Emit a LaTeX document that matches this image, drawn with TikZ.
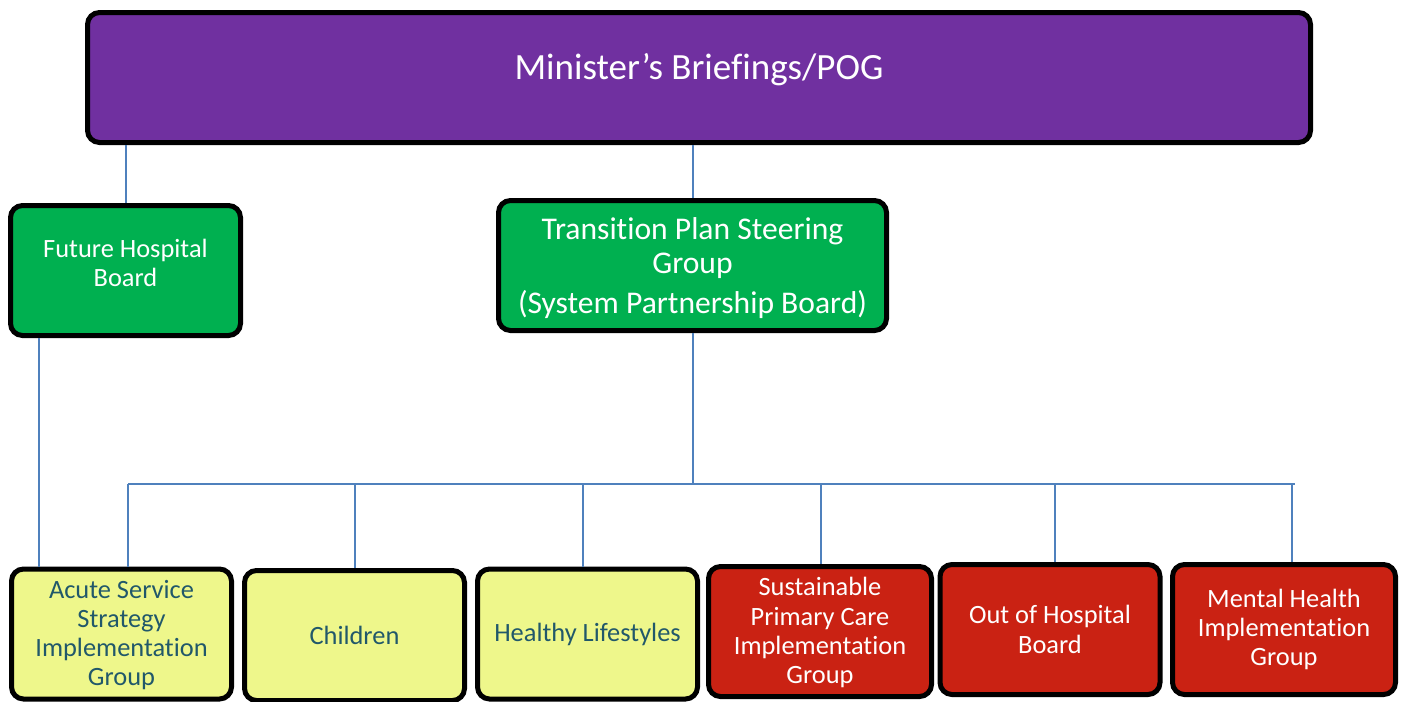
\documentclass[tikz,border=0pt]{standalone}
\usepackage{fontspec}
\setmainfont{Carlito}[Ligatures={NoCommon,NoRequired,NoContextual}, RawFeature={-liga;-clig;-calt;-rlig}]

\definecolor{boardpurple}{RGB}{112,48,160}
\definecolor{boardgreen}{RGB}{0,176,80}
\definecolor{groupyellow}{RGB}{238,247,139}
\definecolor{grouptext}{RGB}{33,88,106}
\definecolor{groupred}{RGB}{202,34,19}
\definecolor{linkblue}{RGB}{79,129,189}

\begin{document}
\begin{tikzpicture}[x=0.5pt, y=-0.5pt,
    box/.style={draw=black, line width=2.5pt, rounded corners=6pt, align=center, inner sep=2pt},
    topbox/.style={box, fill=boardpurple, text=white, font=\fontsize{18.5}{22}\selectfont},
    greenbox/.style={box, fill=boardgreen, text=white, minimum height=65pt},
    workbox/.style={box, minimum width=110pt, minimum height=65pt, font=\fontsize{13.2}{14.6}\selectfont},
    yellowbox/.style={workbox, fill=groupyellow, text=grouptext},
    redbox/.style={workbox, fill=groupred, text=white},
    link/.style={draw=linkblue, line width=1pt}]
    \useasboundingbox (0,0) rectangle (1405,702);

    % Nodes
    \node[topbox, minimum width=611.5pt, minimum height=65pt, text depth=11pt] (pog) at (699,77.5) {Minister’s Briefings/POG};
    \node[greenbox, minimum width=115pt, text depth=8pt, font=\fontsize{13.2}{14.6}\selectfont] (fhb) at (125.5,270.5) {Future Hospital\\Board};
    \node[greenbox, minimum width=194pt, text depth=0pt, font=\fontsize{15.8}{17}\selectfont] (tpsg) at (692.5,265.5) {Transition Plan Steering\\Group\\[3pt](System Partnership Board)};

    \node[yellowbox, text depth=1pt] (acute) at (121.5,634) {Acute Service\\Strategy\\Implementation\\Group};
    \node[yellowbox] (children) at (354.5,635.5) {Children};
    \node[yellowbox] (healthy) at (587.5,634) {Healthy Lifestyles};
    \node[redbox, minimum width=111.5pt, text depth=1pt] (primary) at (820,631.5) {Sustainable\\Primary Care\\Implementation\\Group};
    \node[redbox] (ooh) at (1050,629.5) {Out of Hospital\\Board};
    \node[redbox, minimum width=111.5pt] (mental) at (1284,629.5) {Mental Health\\Implementation\\Group};

    % Lines
    \coordinate (busL) at (128,484);
    \coordinate (busR) at (1295,484);
    \draw[link] (pog.south -| fhb.north) -- (fhb.north);
    \draw[link] (pog.south -| tpsg.north) -- (tpsg.north);
    \draw[link] (tpsg.south) -- (tpsg.south |- busL);
    \draw[link] (busL) -- (busR);
    \draw[link] ([xshift=-43.5pt]fhb.south) -- ([xshift=-43.5pt]fhb.south |- acute.north);
    \foreach \group/\dx in {acute/3.25pt, children/0pt, healthy/-2.25pt, primary/0.5pt, ooh/2.5pt, mental/4pt}
        \draw[link] ([xshift=\dx]\group.north |- busL) -- ([xshift=\dx]\group.north);
\end{tikzpicture}
\end{document}
